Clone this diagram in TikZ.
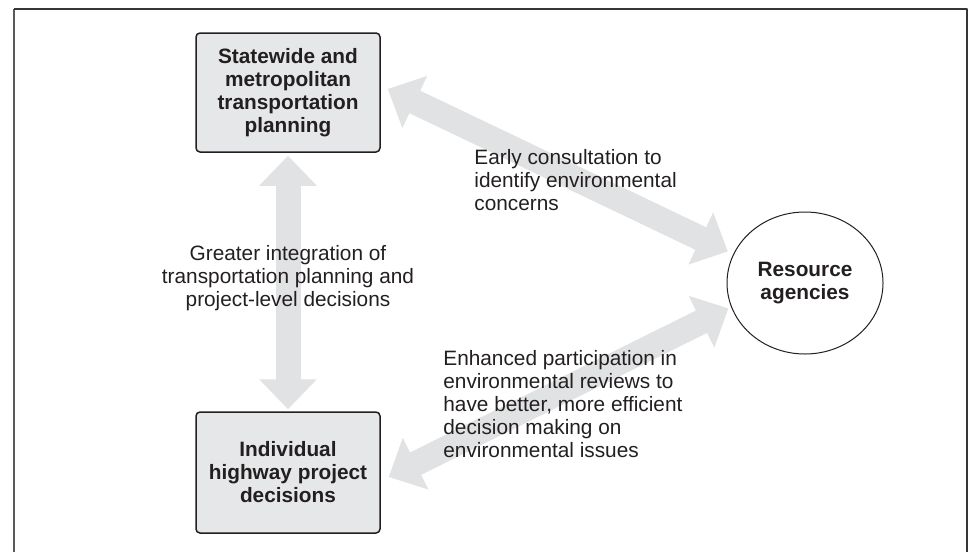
\documentclass[tikz,border=0pt]{standalone}
\usepackage{fontspec}
\setmainfont{Liberation Sans}
\usetikzlibrary{arrows.meta,shapes.geometric}
\definecolor{boxgray}{HTML}{E6E7E8}
\definecolor{arrowgray}{HTML}{E1E2E3}
\definecolor{ink}{HTML}{231F20}
\begin{document}
\begin{tikzpicture}[x=0.5pt,y=-0.5pt, line join=round, text=ink,
	font=\fontsize{10.4}{11.5}\selectfont,
	stage/.style={draw=ink, line width=.75pt, fill=boxgray, rounded corners=2pt,
		minimum width=92pt, align=center, font=\fontsize{10.4}{11.5}\selectfont\bfseries},
	agency/.style={ellipse, draw=ink, line width=.5pt, minimum width=78pt,
		minimum height=71pt, inner sep=0pt, align=center,
		font=\fontsize{10.4}{11.5}\selectfont\bfseries},
	note/.style={inner sep=0pt},
	bigarrow/.style={draw=arrowgray, line width=12.5pt,
		{Triangle[width=28pt,length=15pt]}-{Triangle[width=28pt,length=15pt]}}]
	\useasboundingbox (0,0) rectangle (973,552);
	% open frame
	\draw[gray!70!black, line width=1pt] (14,552) -- (14,9);
	\draw[ink!90, line width=1pt] (14,9) -- (967,9) -- (967,552);
	\node[stage, minimum height=59.5pt] (plan) at (288,92.5)
		{Statewide and\\metropolitan\\transportation\\planning};
	\node[stage, minimum height=60.5pt] (proj) at (288,472.5)
		{Individual\\highway project\\decisions};
	\node[agency] (res) at (805,283) {Resource\\agencies};
	% wide two-way arrows
	\draw[bigarrow, shorten <=1.5pt, shorten >=1pt] (plan.south) -- (proj.north);
	\draw[bigarrow, shorten >=3pt] ([xshift=3.5pt,yshift=1.75pt]plan.east) -- (res.158);
	\draw[bigarrow, shorten <=1.5pt] (res.198) -- ([xshift=4pt,yshift=-2.25pt]proj.east);
	% labels on the arrows
	\node[note, align=left, anchor=west] (early) at (474,180)
		{Early consultation to\\identify environmental\\concerns};
	\node[note, align=center] (integ) at (288,278)
		{Greater integration of\\transportation planning and\\project-level decisions};
	\node[note, align=left, anchor=west] (part) at (443,404)
		{Enhanced participation in\\environmental reviews to\\have better, more efficient\\decision making on\\environmental issues};
\end{tikzpicture}
\end{document}
